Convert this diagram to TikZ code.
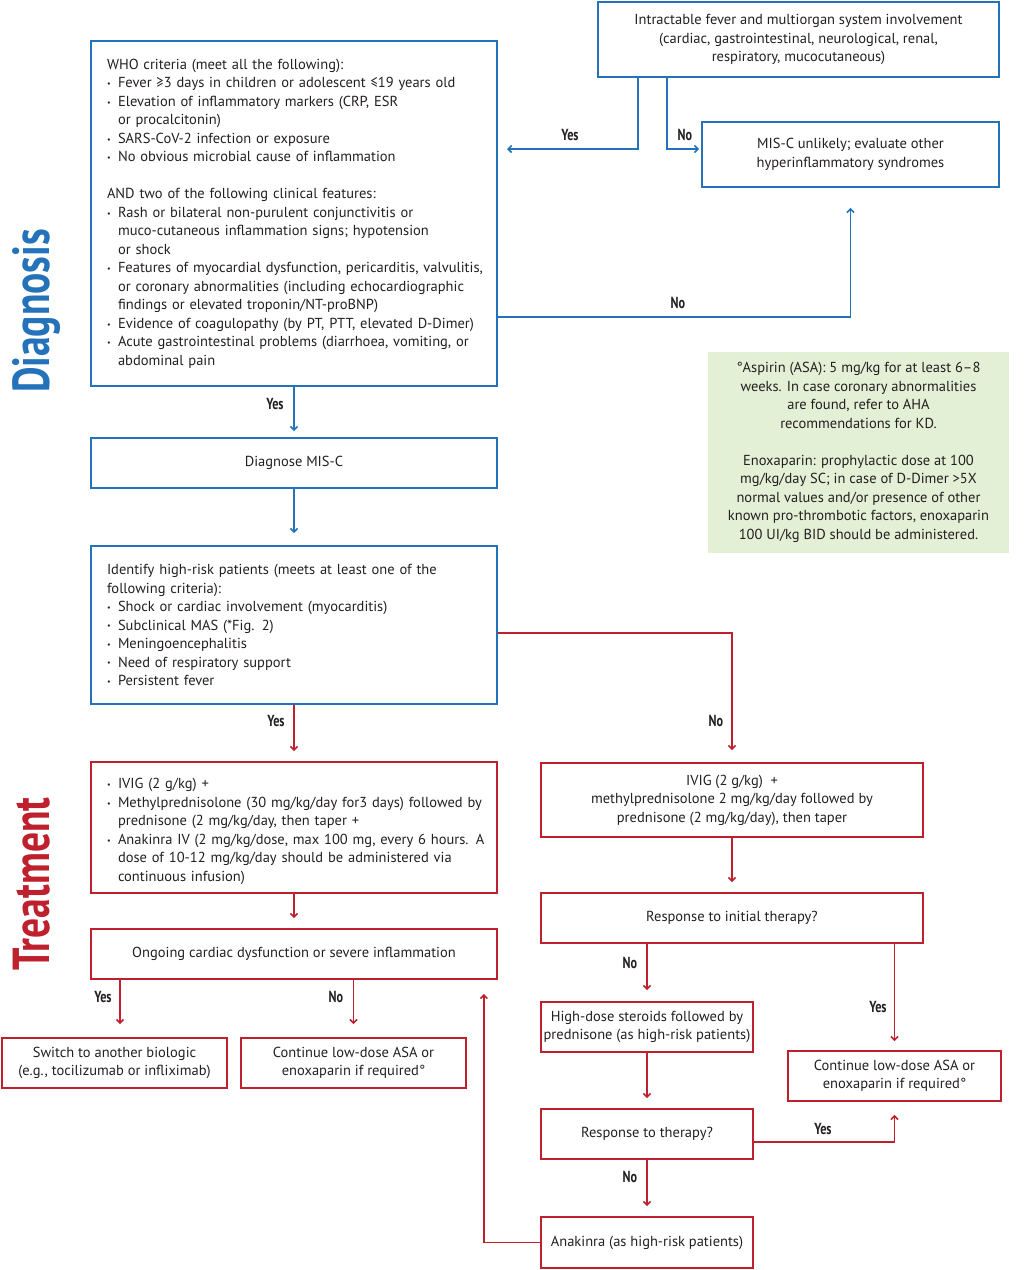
\documentclass[tikz,border=0pt]{standalone}
\usepackage{fontspec}
\setmainfont{PT Sans}
\newfontfamily\condfont[FakeStretch=0.76]{PT Sans}
\usetikzlibrary{arrows.meta}

\definecolor{misblue}{RGB}{36,114,186}
\definecolor{misred}{RGB}{190,32,46}
\definecolor{notegreen}{RGB}{228,240,214}
\definecolor{txt}{RGB}{35,31,32}
\setlength{\parindent}{0pt}
\newcommand{\boxfont}{\fontsize{14.5}{18.5}\selectfont}
\newcommand{\lblfont}{\condfont\bfseries\fontsize{16}{17}\selectfont}
\newcommand{\bul}{\par\hangindent=11pt\hangafter=1\makebox[11pt][l]{\raisebox{1.2pt}{\footnotesize\textbullet}}}

\begin{document}
\begin{tikzpicture}
[
x=1pt, y=-1pt,
blubox/.style={draw=misblue, line width=1.8pt, text=txt, font=\boxfont, inner sep=0pt, align=center},
redbox/.style={draw=misred, line width=1.8pt, text=txt, font=\boxfont, inner sep=0pt, align=center},
listbox/.style={text width=392pt, inner xsep=7pt, align=left},
barrow/.style={draw=misblue, line width=1.6pt, -{Straight Barb[length=3.5pt,width=7pt]}},
rarrow/.style={draw=misred, line width=1.6pt, -{Straight Barb[length=3.5pt,width=7pt]}}
]
\tikzset{lbl/.style={font=\lblfont, text=txt, inner sep=0pt}}
\useasboundingbox (0,0) rectangle (1036,1270);

\node[font=\condfont\bfseries\fontsize{52}{52}\selectfont, text=misblue, rotate=90, anchor=base, inner sep=0pt] (diag) at (49,311) {Diagnosis};
\node[font=\condfont\bfseries\fontsize{52}{52}\selectfont, text=misred, rotate=90, anchor=base, inner sep=0pt] (treat) at (49,884) {Treatment};

% diagnosis
\node[blubox, minimum width=401pt, minimum height=75pt] (intr) at (798.5,39.5) {Intractable fever and multiorgan system involvement\\(cardiac, gastrointestinal, neurological, renal,\\respiratory, mucocutaneous)};
\node[blubox, minimum width=297pt, minimum height=65pt] (unl) at (850.5,154.5) {MIS-C unlikely; evaluate other\\hyperinflammatory syndromes};
\node[blubox, listbox, minimum height=345pt] (who) at (294,213.5) {\leftskip=9pt WHO criteria (meet all the following):
\bul Fever ≥3 days in children or adolescent ≤19 years old
\bul Elevation of inflammatory markers (CRP, ESR\newline or procalcitonin)
\bul SARS-CoV-2 infection or exposure
\bul No obvious microbial cause of inflammation
\par\vspace{18.5pt}AND two of the following clinical features:
\bul Rash or bilateral non-purulent conjunctivitis or\newline muco-cutaneous inflammation signs; hypotension\newline or shock
\bul Features of myocardial dysfunction, pericarditis, valvulitis,\newline or coronary abnormalities (including echocardiographic\newline findings or elevated troponin/NT-proBNP)
\bul Evidence of coagulopathy (by PT, PTT, elevated D-Dimer)
\bul Acute gastrointestinal problems (diarrhoea, vomiting, or\newline abdominal pain\par};
\node[blubox, minimum width=406pt, minimum height=50pt] (dia) at (294,463) {Diagnose MIS-C};
\node[blubox, listbox, minimum height=158pt] (risk) at (294,625) {\leftskip=9pt Identify high-risk patients (meets at least one of the\newline following criteria):
\bul Shock or cardiac involvement (myocarditis)
\bul Subclinical MAS (*Fig. 2)
\bul Meningoencephalitis
\bul Need of respiratory support
\bul Persistent fever\par};
\node[fill=notegreen, text=txt, font=\boxfont, align=center, inner sep=0pt, minimum width=301pt, minimum height=201pt] (note) at (858.5,452.5) {°Aspirin (ASA): 5 mg/kg for at least 6–8\\weeks. In case coronary abnormalities\\are found, refer to AHA\\recommendations for KD.\\[18.5pt]Enoxaparin: prophylactic dose at 100\\mg/kg/day SC; in case of D-Dimer >5X\\normal values and/or presence of other\\known pro-thrombotic factors, enoxaparin\\100 UI/kg BID should be administered.};

% treatment
\node[redbox, listbox, minimum height=131pt] (ivigL) at (294,827.5) {\leftskip=9pt
\bul IVIG (2 g/kg) +
\bul Methylprednisolone (30 mg/kg/day for3 days) followed by\newline prednisone (2 mg/kg/day, then taper +
\bul Anakinra IV (2 mg/kg/dose, max 100 mg, every 6 hours. A\newline dose of 10-12 mg/kg/day should be administered via\newline continuous infusion)\par};
\node[redbox, minimum width=406pt, minimum height=50pt] (ongo) at (294,954) {Ongoing cardiac dysfunction or severe inflammation};
\node[redbox, minimum width=225pt, minimum height=50pt] (switch) at (114.5,1063) {Switch to another biologic\\(e.g., tocilizumab or infliximab)};
\node[redbox, minimum width=225pt, minimum height=50pt] (contL) at (353.5,1063) {Continue low-dose ASA or\\enoxaparin if required°};
\node[redbox, minimum width=382pt, minimum height=74pt] (ivigR) at (732,800) {IVIG (2 g/kg)\ \ +\\methylprednisolone 2 mg/kg/day followed by\\prednisone (2 mg/kg/day), then taper};
\node[redbox, minimum width=382pt, minimum height=50pt] (resp1) at (732,918) {Response to initial therapy?};
\node[redbox, minimum width=212pt, minimum height=50pt] (high) at (647,1027) {High-dose steroids followed by\\prednisone (as high-risk patients)};
\node[redbox, minimum width=213pt, minimum height=50pt] (contR) at (894.5,1076) {Continue low-dose ASA or\\enoxaparin if required°};
\node[redbox, minimum width=212pt, minimum height=50pt] (resp2) at (647,1134) {Response to therapy?};
\node[redbox, minimum width=212pt, minimum height=51pt] (anak) at (647,1242.5) {Anakinra (as high-risk patients)};

% connectors
\coordinate (yesend) at (507,149);
\draw[barrow] ([xshift=-160.5pt]intr.south) |- (yesend);
\draw[barrow, shorten >=2pt] ([xshift=-131.5pt]intr.south) |- (unl.west |- yesend);
\draw[barrow, shorten >=20pt] ([yshift=-103.5pt]who.east) -| (unl.south);
\draw[barrow, shorten >=6pt] (who) -- (dia);
\draw[barrow, shorten >=12pt] (dia) -- (risk);
\draw[rarrow, shorten >=10pt] (risk) -- (ivigL);
\draw[rarrow, shorten >=12pt] ([yshift=-8pt]risk.east) -| (ivigR.north);
\draw[rarrow, shorten >=10pt] (ivigL) -- (ongo);
\draw[rarrow, shorten >=13pt] ([xshift=5.5pt]switch.north |- ongo.south) -- ([xshift=5.5pt]switch.north);
\draw[rarrow, shorten >=13pt] (contL.north |- ongo.south) -- (contL.north);
\draw[rarrow, shorten >=10pt] (ivigR) -- (resp1);
\draw[rarrow, shorten >=11pt] (high.north |- resp1.south) -- (high.north);
\draw[rarrow, shorten >=9pt] (contR.north |- resp1.south) -- (contR.north);
\draw[rarrow, shorten >=10pt] (high) -- (resp2);
\draw[rarrow, shorten >=13pt] ([yshift=-8pt]resp2.east) -| (contR.south);
\draw[rarrow, shorten >=10pt] (resp2) -- (anak);
\draw[rarrow, shorten >=14pt] (anak.west) -| ([xshift=-14pt]ongo.south east);

\node[lbl] (yes1) at (570,135) {Yes};
\node[lbl] (no1) at (685,135) {No};
\node[lbl] (no2) at (678,303) {No};
\node[lbl] (yes2) at (275,404) {Yes};
\node[lbl] (yes3) at (276,721) {Yes};
\node[lbl] (no3) at (716,721) {No};
\node[lbl] (yes4) at (103,997) {Yes};
\node[lbl] (no4) at (336,997) {No};
\node[lbl] (no5) at (630,963) {No};
\node[lbl] (yes5) at (878,1007) {Yes};
\node[lbl] (yes6) at (823,1129) {Yes};
\node[lbl] (no6) at (630,1177) {No};
\end{tikzpicture}
\end{document}
